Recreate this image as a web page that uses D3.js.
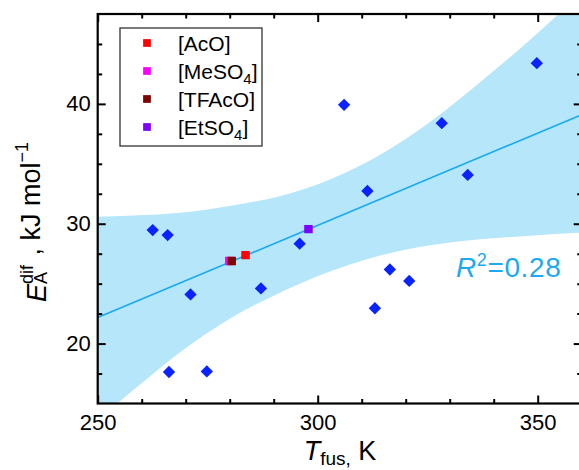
<!DOCTYPE html>
<html>
<head>
<meta charset="utf-8">
<script src="https://cdn.jsdelivr.net/npm/d3@7"></script>
<style>
  body { margin: 0; background: #fff; }
  svg { display: block; font-family: "Liberation Sans", Arial, sans-serif; }
</style>
</head>
<body>
<div id="chart"></div>
<script>
// Data
var tfus = [262.5, 265.9, 271.1, 287.1, 266.2, 274.8, 295.9, 306.0, 311.3, 328.2, 334.1, 349.8, 316.4, 320.8, 313.0];
var eaDif = [29.47, 29.05, 24.1, 24.6, 17.63, 17.68, 28.34, 39.92, 32.73, 38.39, 34.07, 43.4, 26.18, 25.23, 22.95];

var anionNames = ["[AcO]", "[MeSO4]", "[TFAcO]", "[EtSO4]"];
var anionT = [283.6, 279.9, 280.45, 297.9];
var anionE = [27.38, 26.9, 26.9, 29.55];

// linear fit and its band
var fitT = [250, 360];
var fitE = [22.17, 39.1];
var upperT = [250, 261, 272.1, 283.5, 291.4, 302.8, 314.2, 325.6, 336.9, 348.3, 360];
var upperE = [30.58, 30.72, 31.05, 31.7, 32.3, 33.7, 35.75, 38.5, 41.8, 45.35, 49.3];
var lowerT = [250, 254.8, 259.7, 268.8, 280.1, 290.0, 299.8, 314.2, 325.6, 336.9, 348.3, 360];
var lowerE = [13.5, 15.1, 16.6, 19.3, 22.1, 24.0, 25.6, 27.35, 28.2, 28.7, 29.0, 29.25];
var r2Text = "0.28";

var xMajor = [250, 300, 350];
var yMajor = [20, 30, 40];

var anionColors = ["#ff0000", "#ff00ff", "#800000", "#8000ff"];
var fitColor = "#1ba9ef";

// Dimensions
var width = 579, height = 470;
var plot = {left: 97.7, right: 581.7, top: 14, bottom: 403.5};

var svg = d3.select("#chart")
    .append("svg")
    .attr("width", width)
    .attr("height", height);

var x = d3.scaleLinear().domain([250, 360]).range([plot.left, plot.right]);
var y = d3.scaleLinear().domain([15, 47.5]).range([plot.bottom, plot.top]);

svg.append("clipPath").attr("id", "clip")
    .append("rect")
    .attr("x", plot.left).attr("y", plot.top)
    .attr("width", plot.right - plot.left).attr("height", plot.bottom - plot.top);

var g = svg.append("g").attr("clip-path", "url(#clip)");

// Confidence band: upper edge left->right, lower edge right->left
var up = upperT.map(function (t, i) { return [x(t), y(upperE[i])]; });
var lo = lowerT.map(function (t, i) { return [x(t), y(lowerE[i])]; });
var edge = d3.line().curve(d3.curveMonotoneX);
var loRev = edge(lo.map(function (p) { return [-p[0], p[1]]; }).reverse());
// mirror the lower path back so it runs right->left
var loPath = loRev.replace(/(-?\d+\.?\d*(?:e-?\d+)?),(-?\d+\.?\d*(?:e-?\d+)?)/g, function (m, a, b) {
    return (-parseFloat(a)) + "," + b;
});
g.append("path")
    .attr("d", edge(up) + "L" + loPath.slice(1) + "Z")
    .attr("fill", "#b5e6fa");

// Fit line
g.append("path")
    .attr("d", d3.line()(fitT.map(function (t, i) { return [x(t), y(fitE[i])]; })))
    .attr("stroke", fitColor)
    .attr("stroke-width", 1.6)
    .attr("fill", "none");

// Diamonds
var diamond = d3.symbol().type(d3.symbolSquare).size(76);
g.selectAll("path.pt")
    .data(tfus.map(function (t, i) { return {t: t, e: eaDif[i]}; }))
    .enter()
    .append("path")
    .attr("class", "pt")
    .attr("d", diamond)
    .attr("fill", "#0a22fb")
    .attr("transform", function (d) {
        return "translate(" + x(d.t) + "," + y(d.e) + ") rotate(45)";
    });

// Anion squares
var square = d3.symbol().type(d3.symbolSquare).size(72);
g.selectAll("path.an")
    .data(anionNames.map(function (n, i) { return {t: anionT[i], e: anionE[i], c: anionColors[i]}; }))
    .enter()
    .append("path")
    .attr("class", "an")
    .attr("d", square)
    .attr("fill", function (d) { return d.c; })
    .attr("transform", function (d) {
        return "translate(" + x(d.t) + "," + y(d.e) + ")";
    });

// Axes (ticks inward)
function minorRange(a, b, step) {
    var out = [];
    for (var v = a; v <= b + 1e-9; v += step) out.push(+v.toFixed(3));
    return out;
}
var xMinor = minorRange(260, 350, 10).filter(function (v) { return xMajor.indexOf(v) < 0; });
var yMinor = minorRange(17.5, 45, 2.5).filter(function (v) { return yMajor.indexOf(v) < 0; });

function styleAxis(sel) {
    sel.select(".domain").remove();
    sel.selectAll("line").attr("stroke", "#000").attr("stroke-width", 2);
    sel.selectAll("text").attr("fill", "#000").style("font-size", "22px")
        .style("font-family", "'Liberation Sans', Arial, sans-serif");
}

var axes = svg.append("g");

axes.append("g").attr("transform", "translate(0," + plot.bottom + ")")
    .call(d3.axisBottom(x).tickValues(xMajor).tickSize(-8).tickPadding(11).tickFormat(d3.format("d")))
    .call(styleAxis);
axes.append("g").attr("transform", "translate(0," + plot.bottom + ")")
    .call(d3.axisBottom(x).tickValues(xMinor).tickSize(-4.5).tickFormat(""))
    .call(styleAxis);
axes.append("g").attr("transform", "translate(0," + plot.top + ")")
    .call(d3.axisTop(x).tickValues(xMajor).tickSize(-8).tickFormat(""))
    .call(styleAxis);
axes.append("g").attr("transform", "translate(0," + plot.top + ")")
    .call(d3.axisTop(x).tickValues(xMinor).tickSize(-4.5).tickFormat(""))
    .call(styleAxis);

axes.append("g").attr("transform", "translate(" + plot.left + ",0)")
    .call(d3.axisLeft(y).tickValues(yMajor).tickSize(-8).tickPadding(7).tickFormat(d3.format("d")))
    .call(styleAxis);
axes.append("g").attr("transform", "translate(" + plot.left + ",0)")
    .call(d3.axisLeft(y).tickValues(yMinor).tickSize(-4.5).tickFormat(""))
    .call(styleAxis);
axes.append("g").attr("transform", "translate(" + plot.right + ",0)")
    .call(d3.axisRight(y).tickValues(yMajor).tickSize(-8).tickFormat(""))
    .call(styleAxis);
axes.append("g").attr("transform", "translate(" + plot.right + ",0)")
    .call(d3.axisRight(y).tickValues(yMinor).tickSize(-4.5).tickFormat(""))
    .call(styleAxis);

// Frame
axes.append("rect")
    .attr("x", plot.left).attr("y", plot.top)
    .attr("width", plot.right - plot.left).attr("height", plot.bottom - plot.top)
    .attr("fill", "none").attr("stroke", "#000").attr("stroke-width", 2.2);

// R^2 annotation
var r2 = svg.append("text")
    .attr("x", 456).attr("y", 277)
    .attr("fill", fitColor)
    .style("font-size", "28px")
    .style("letter-spacing", "0.6px");
r2.append("tspan").attr("font-style", "italic").text("R");
r2.append("tspan").style("font-size", "18px").attr("dy", -11).text("2");
r2.append("tspan").attr("dy", 11).text("=" + r2Text);

// Legend
var legend = svg.append("g");
legend.append("rect")
    .attr("x", 120).attr("y", 28).attr("width", 142).attr("height", 118)
    .attr("fill", "#fff").attr("stroke", "#333").attr("stroke-width", 1.3);

anionNames.forEach(function (name, i) {
    var ry = 43 + i * 28;
    legend.append("path")
        .attr("d", d3.symbol().type(d3.symbolSquare).size(60))
        .attr("fill", anionColors[i])
        .attr("transform", "translate(147," + ry + ")");
    var t = legend.append("text")
        .attr("x", 178).attr("y", ry + 7.5)
        .style("font-size", "21px");
    var m = name.match(/^(.*?)(\d)(\]?)$/);
    if (m) {
        t.append("tspan").text(m[1]);
        t.append("tspan").style("font-size", "15px").attr("dy", 5).text(m[2]);
        t.append("tspan").attr("dy", -5).text(m[3]);
    } else {
        t.text(name);
    }
});

// X axis title
var xt = svg.append("text")
    .attr("x", 340).attr("y", 460)
    .attr("text-anchor", "middle")
    .style("font-size", "27px");
xt.append("tspan").attr("font-style", "italic").text("T");
xt.append("tspan").style("font-size", "19px").attr("dy", 5).text("fus");
xt.append("tspan").style("font-size", "19px").text(",");
xt.append("tspan").attr("dy", -5).text(" K");

// Y axis title
var yt = svg.append("text")
    .attr("transform", "rotate(-90)")
    .attr("x", -302).attr("y", 40)
    .style("font-size", "27px");
yt.append("tspan").attr("font-style", "italic").attr("dy", 6).text("E");
var sup = yt.append("tspan").style("font-size", "18px").attr("dy", -13).text("dif");
var supW = sup.node().getComputedTextLength();
var sub = yt.append("tspan").style("font-size", "18px").attr("dx", -supW).attr("dy", 14).text("A");
var subW = sub.node().getComputedTextLength();
yt.append("tspan").attr("dx", supW - subW + 2).attr("dy", -7).text(" , kJ mol");
yt.append("tspan").style("font-size", "18px").attr("dy", -12).text("\u22121");
</script>
</body>
</html>
